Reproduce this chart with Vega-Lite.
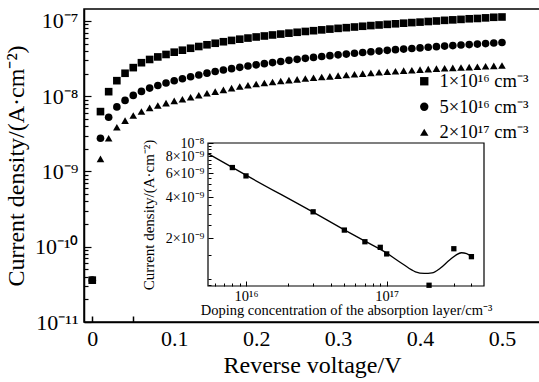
{
 "$schema": "https://vega.github.io/schema/vega-lite/v6.json",
 "width": 456, "height": 313,
 "autosize": {"type": "none"},
 "padding": {"left": 84, "top": 9, "right": 0, "bottom": 60},
 "background": "white",
 "config": {
  "view": {"stroke": "black", "strokeWidth": 1.5},
  "font": "Liberation Serif",
  "axis": {"grid": false, "domainColor": "black", "tickColor": "black", "labelColor": "black", "titleColor": "black", "labelFont": "Liberation Serif", "titleFont": "Liberation Serif", "titleFontWeight": "normal", "labelOverlap": false, "labelFlush": false}
 },
 "datasets": {
  "main": [
   {"V":0,"J":3.6e-11,"s":"a"},{"V":0.01,"J":6.25e-9,"s":"a"},{"V":0.02,"J":1.15e-8,"s":"a"},{"V":0.03,"J":1.61e-8,"s":"a"},{"V":0.04,"J":2.02e-8,"s":"a"},{"V":0.05,"J":2.4e-8,"s":"a"},{"V":0.06,"J":2.79e-8,"s":"a"},{"V":0.07,"J":3.08e-8,"s":"a"},{"V":0.08,"J":3.33e-8,"s":"a"},{"V":0.09,"J":3.59e-8,"s":"a"},{"V":0.1,"J":3.85e-8,"s":"a"},
   {"V":0.11,"J":4.09e-8,"s":"a"},{"V":0.12,"J":4.34e-8,"s":"a"},{"V":0.13,"J":4.58e-8,"s":"a"},{"V":0.14,"J":4.83e-8,"s":"a"},{"V":0.15,"J":5.06e-8,"s":"a"},{"V":0.16,"J":5.3e-8,"s":"a"},{"V":0.17,"J":5.52e-8,"s":"a"},{"V":0.18,"J":5.73e-8,"s":"a"},{"V":0.19,"J":5.93e-8,"s":"a"},{"V":0.2,"J":6.13e-8,"s":"a"},
   {"V":0.21,"J":6.32e-8,"s":"a"},{"V":0.22,"J":6.52e-8,"s":"a"},{"V":0.23,"J":6.7e-8,"s":"a"},{"V":0.24,"J":6.89e-8,"s":"a"},{"V":0.25,"J":7.08e-8,"s":"a"},{"V":0.26,"J":7.26e-8,"s":"a"},{"V":0.27,"J":7.43e-8,"s":"a"},{"V":0.28,"J":7.62e-8,"s":"a"},{"V":0.29,"J":7.8e-8,"s":"a"},{"V":0.3,"J":7.98e-8,"s":"a"},
   {"V":0.31,"J":8.15e-8,"s":"a"},{"V":0.32,"J":8.32e-8,"s":"a"},{"V":0.33,"J":8.51e-8,"s":"a"},{"V":0.34,"J":8.69e-8,"s":"a"},{"V":0.35,"J":8.85e-8,"s":"a"},{"V":0.36,"J":9.02e-8,"s":"a"},{"V":0.37,"J":9.18e-8,"s":"a"},{"V":0.38,"J":9.35e-8,"s":"a"},{"V":0.39,"J":9.52e-8,"s":"a"},{"V":0.4,"J":9.66e-8,"s":"a"},
   {"V":0.41,"J":9.84e-8,"s":"a"},{"V":0.42,"J":1.0e-7,"s":"a"},{"V":0.43,"J":1.02e-7,"s":"a"},{"V":0.44,"J":1.035e-7,"s":"a"},{"V":0.45,"J":1.05e-7,"s":"a"},{"V":0.46,"J":1.07e-7,"s":"a"},{"V":0.47,"J":1.08e-7,"s":"a"},{"V":0.48,"J":1.1e-7,"s":"a"},{"V":0.49,"J":1.12e-7,"s":"a"},{"V":0.5,"J":1.13e-7,"s":"a"},
   {"V":0,"J":3.6e-11,"s":"b"},{"V":0.01,"J":2.77e-9,"s":"b"},{"V":0.02,"J":5.26e-9,"s":"b"},{"V":0.03,"J":7.21e-9,"s":"b"},{"V":0.04,"J":8.8e-9,"s":"b"},{"V":0.05,"J":1.025e-8,"s":"b"},{"V":0.06,"J":1.159e-8,"s":"b"},{"V":0.07,"J":1.282e-8,"s":"b"},{"V":0.08,"J":1.391e-8,"s":"b"},{"V":0.09,"J":1.502e-8,"s":"b"},{"V":0.1,"J":1.606e-8,"s":"b"},
   {"V":0.11,"J":1.707e-8,"s":"b"},{"V":0.12,"J":1.815e-8,"s":"b"},{"V":0.13,"J":1.919e-8,"s":"b"},{"V":0.14,"J":2.027e-8,"s":"b"},{"V":0.15,"J":2.128e-8,"s":"b"},{"V":0.16,"J":2.228e-8,"s":"b"},{"V":0.17,"J":2.325e-8,"s":"b"},{"V":0.18,"J":2.42e-8,"s":"b"},{"V":0.19,"J":2.518e-8,"s":"b"},{"V":0.2,"J":2.612e-8,"s":"b"},
   {"V":0.21,"J":2.71e-8,"s":"b"},{"V":0.22,"J":2.8e-8,"s":"b"},{"V":0.23,"J":2.9e-8,"s":"b"},{"V":0.24,"J":2.998e-8,"s":"b"},{"V":0.25,"J":3.09e-8,"s":"b"},{"V":0.26,"J":3.19e-8,"s":"b"},{"V":0.27,"J":3.28e-8,"s":"b"},{"V":0.28,"J":3.37e-8,"s":"b"},{"V":0.29,"J":3.46e-8,"s":"b"},{"V":0.3,"J":3.55e-8,"s":"b"},
   {"V":0.31,"J":3.63e-8,"s":"b"},{"V":0.32,"J":3.72e-8,"s":"b"},{"V":0.33,"J":3.82e-8,"s":"b"},{"V":0.34,"J":3.9e-8,"s":"b"},{"V":0.35,"J":3.98e-8,"s":"b"},{"V":0.36,"J":4.07e-8,"s":"b"},{"V":0.37,"J":4.16e-8,"s":"b"},{"V":0.38,"J":4.23e-8,"s":"b"},{"V":0.39,"J":4.31e-8,"s":"b"},{"V":0.4,"J":4.39e-8,"s":"b"},
   {"V":0.41,"J":4.48e-8,"s":"b"},{"V":0.42,"J":4.56e-8,"s":"b"},{"V":0.43,"J":4.64e-8,"s":"b"},{"V":0.44,"J":4.71e-8,"s":"b"},{"V":0.45,"J":4.79e-8,"s":"b"},{"V":0.46,"J":4.86e-8,"s":"b"},{"V":0.47,"J":4.93e-8,"s":"b"},{"V":0.48,"J":5.01e-8,"s":"b"},{"V":0.49,"J":5.09e-8,"s":"b"},{"V":0.5,"J":5.17e-8,"s":"b"},
   {"V":0,"J":3.6e-11,"s":"c"},{"V":0.01,"J":1.47e-9,"s":"c"},{"V":0.02,"J":2.77e-9,"s":"c"},{"V":0.03,"J":3.87e-9,"s":"c"},{"V":0.04,"J":4.74e-9,"s":"c"},{"V":0.05,"J":5.56e-9,"s":"c"},{"V":0.06,"J":6.28e-9,"s":"c"},{"V":0.07,"J":7.0e-9,"s":"c"},{"V":0.08,"J":7.55e-9,"s":"c"},{"V":0.09,"J":8.1e-9,"s":"c"},{"V":0.1,"J":8.67e-9,"s":"c"},
   {"V":0.11,"J":9.12e-9,"s":"c"},{"V":0.12,"J":9.7e-9,"s":"c"},{"V":0.13,"J":1.031e-8,"s":"c"},{"V":0.14,"J":1.096e-8,"s":"c"},{"V":0.15,"J":1.151e-8,"s":"c"},{"V":0.16,"J":1.216e-8,"s":"c"},{"V":0.17,"J":1.282e-8,"s":"c"},{"V":0.18,"J":1.345e-8,"s":"c"},{"V":0.19,"J":1.4e-8,"s":"c"},{"V":0.2,"J":1.452e-8,"s":"c"},
   {"V":0.21,"J":1.502e-8,"s":"c"},{"V":0.22,"J":1.549e-8,"s":"c"},{"V":0.23,"J":1.592e-8,"s":"c"},{"V":0.24,"J":1.636e-8,"s":"c"},{"V":0.25,"J":1.677e-8,"s":"c"},{"V":0.26,"J":1.718e-8,"s":"c"},{"V":0.27,"J":1.761e-8,"s":"c"},{"V":0.28,"J":1.8e-8,"s":"c"},{"V":0.29,"J":1.838e-8,"s":"c"},{"V":0.3,"J":1.878e-8,"s":"c"},
   {"V":0.31,"J":1.919e-8,"s":"c"},{"V":0.32,"J":1.96e-8,"s":"c"},{"V":0.33,"J":2.0e-8,"s":"c"},{"V":0.34,"J":2.04e-8,"s":"c"},{"V":0.35,"J":2.08e-8,"s":"c"},{"V":0.36,"J":2.12e-8,"s":"c"},{"V":0.37,"J":2.15e-8,"s":"c"},{"V":0.38,"J":2.19e-8,"s":"c"},{"V":0.39,"J":2.22e-8,"s":"c"},{"V":0.4,"J":2.26e-8,"s":"c"},
   {"V":0.41,"J":2.29e-8,"s":"c"},{"V":0.42,"J":2.33e-8,"s":"c"},{"V":0.43,"J":2.35e-8,"s":"c"},{"V":0.44,"J":2.38e-8,"s":"c"},{"V":0.45,"J":2.41e-8,"s":"c"},{"V":0.46,"J":2.44e-8,"s":"c"},{"V":0.47,"J":2.47e-8,"s":"c"},{"V":0.48,"J":2.5e-8,"s":"c"},{"V":0.49,"J":2.53e-8,"s":"c"},{"V":0.5,"J":2.56e-8,"s":"c"}
  ],
  "inset": [
   {"N":8e15,"J":6.6e-9},{"N":1e16,"J":5.73e-9},{"N":3e16,"J":3.12e-9},{"N":5e16,"J":2.29e-9},{"N":7e16,"J":1.88e-9},{"N":9e16,"J":1.71e-9},{"N":1e17,"J":1.53e-9},{"N":2e17,"J":9.0e-10},{"N":3e17,"J":1.67e-9},{"N":4e17,"J":1.46e-9}
  ],
  "fit": [
   {"N":5.37e15,"J":8.36e-9},{"N":1e16,"J":5.8e-9},{"N":3e16,"J":3.1e-9},{"N":5e16,"J":2.3e-9},{"N":7e16,"J":1.9e-9},{"N":1e17,"J":1.55e-9},{"N":1.3e17,"J":1.29e-9},{"N":1.6e17,"J":1.13e-9},{"N":1.85e17,"J":1.1e-9},{"N":2.1e17,"J":1.11e-9},{"N":2.4e17,"J":1.2e-9},{"N":2.8e17,"J":1.38e-9},{"N":3.4e17,"J":1.56e-9},{"N":3.7e17,"J":1.54e-9},{"N":4e17,"J":1.46e-9}
  ],
  "box": [{"x1":5.37e15,"x2":4.915e17,"y1":8.887e-10,"y2":1e-8}]
 },
 "resolve": {"scale": {"x": "independent", "y": "independent"}, "axis": {"x": "independent", "y": "independent"}},
 "layer": [
  {
   "data": {"name": "main"},
   "mark": {"type": "point", "filled": true, "color": "black", "size": 58, "opacity": 1},
   "encoding": {
    "x": {"field": "V", "type": "quantitative",
     "scale": {"domain": [-0.0101, 0.5464], "nice": false, "zero": false},
     "axis": {"orient": "bottom", "values": [0, 0.1, 0.2, 0.3, 0.4, 0.5], "ticks": false, "domainWidth": 1.5, "labelFontSize": 22, "labelPadding": 6, "labelExpr": "datum.value == 0 ? '0' : format(datum.value, '.1f')", "title": "Reverse voltage/V", "titleFontSize": 24, "titlePadding": 4}},
    "y": {"field": "J", "type": "quantitative",
     "scale": {"type": "log", "domain": [1e-11, 1.443e-7], "nice": false},
     "axis": {"orient": "left", "values": [1e-11, 1e-10, 1e-9, 1e-8, 1e-7], "ticks": false, "domainWidth": 1.5, "labelFontSize": 22, "labelPadding": 6, "labelExpr": "datum.value < 5e-11 ? '10⁻¹¹' : datum.value < 5e-10 ? '10⁻¹⁰' : datum.value < 5e-9 ? '10⁻⁹' : datum.value < 5e-8 ? '10⁻⁸' : '10⁻⁷'", "title": "Current density/(A·cm⁻²)", "titleFontSize": 24, "titlePadding": 6}},
    "shape": {"field": "s", "type": "nominal",
     "scale": {"domain": ["a", "b", "c"], "range": ["square", "circle", "triangle-up"]},
     "legend": {"orient": "none", "legendX": 331, "legendY": 63, "title": null, "padding": 0, "symbolSize": 70, "symbolFillColor": "black", "symbolStrokeColor": "black", "symbolType": "circle", "labelFont": "Liberation Serif", "labelFontSize": 18.5, "labelColor": "black", "labelLimit": 0, "labelOffset": 6, "rowPadding": 6.5,
      "labelExpr": "datum.label == 'a' ? '1×10¹⁶ cm⁻³' : datum.label == 'b' ? '5×10¹⁶ cm⁻³' : '2×10¹⁷ cm⁻³'"}}
   }
  },
  {
   "data": {"values": [{"V": 0, "J": 1e-9}]},
   "mark": {"type": "point", "opacity": 0},
   "encoding": {
    "x": {"field": "V", "type": "quantitative",
     "scale": {"domain": [-0.0101, 0.5464], "nice": false, "zero": false},
     "axis": {"orient": "bottom", "values": [0, 0.05], "labels": false, "domain": false, "tickSize": -6, "tickWidth": 1.5, "title": null}},
    "y": {"field": "J", "type": "quantitative",
     "scale": {"type": "log", "domain": [1e-11, 1.443e-7], "nice": false},
     "axis": {"orient": "left", "values": [1e-11, 2e-11, 3e-11, 4e-11, 5e-11, 6e-11, 7e-11, 8e-11, 9e-11, 1e-10, 2e-10, 3e-10, 4e-10, 5e-10, 6e-10, 7e-10, 8e-10, 9e-10, 1e-9, 2e-9, 3e-9, 4e-9, 5e-9, 6e-9, 7e-9, 8e-9, 9e-9, 1e-8, 2e-8, 3e-8, 4e-8, 5e-8, 6e-8, 7e-8, 8e-8, 9e-8, 1e-7],
      "labels": false, "domain": false, "title": null, "tickWidth": 1.2,
      "tickSize": {"condition": {"test": "abs(log(datum.value)/LN10 - round(log(datum.value)/LN10)) < 0.001", "value": -7}, "value": -4}}}
   }
  },
  {
   "data": {"name": "box"},
   "mark": {"type": "rect", "filled": false, "stroke": "black", "strokeWidth": 1.2},
   "encoding": {
    "x": {"field": "x1", "type": "quantitative", "scale": {"type": "log", "domain": [5.37e15, 4.915e17], "range": [124, 400], "nice": false}, "axis": null},
    "x2": {"field": "x2"},
    "y": {"field": "y1", "type": "quantitative", "scale": {"type": "log", "domain": [8.887e-10, 1e-8], "range": [277, 134], "nice": false}, "axis": null},
    "y2": {"field": "y2"}
   }
  },
  {
   "data": {"name": "fit"},
   "mark": {"type": "line", "color": "black", "strokeWidth": 1.3, "interpolate": "monotone"},
   "encoding": {
    "x": {"field": "N", "type": "quantitative", "scale": {"type": "log", "domain": [5.37e15, 4.915e17], "range": [124, 400], "nice": false},
     "axis": {"orient": "bottom", "offset": -36, "values": [1e16, 1e17], "ticks": false, "domain": false, "labelFontSize": 14.5, "labelPadding": 3, "labelExpr": "datum.value < 5e16 ? '10¹⁶' : '10¹⁷'", "title": "Doping concentration of the absorption layer/cm⁻³", "titleFontSize": 14.5, "titlePadding": 1}},
    "y": {"field": "J", "type": "quantitative", "scale": {"type": "log", "domain": [8.887e-10, 1e-8], "range": [277, 134], "nice": false},
     "axis": {"orient": "left", "offset": -124, "values": [2e-9, 4e-9, 6e-9, 8e-9, 1e-8], "ticks": false, "domain": false, "labelFontSize": 14, "labelPadding": 4, "labelExpr": "datum.value > 9e-9 ? '10⁻⁸' : datum.value > 7e-9 ? '8×10⁻⁹' : datum.value > 5e-9 ? '6×10⁻⁹' : datum.value > 3e-9 ? '4×10⁻⁹' : '2×10⁻⁹'", "title": "Current density/(A·cm⁻²)", "titleFontSize": 15, "titlePadding": 9}}
   }
  },
  {
   "data": {"name": "inset"},
   "mark": {"type": "square", "filled": true, "color": "black", "size": 28, "opacity": 1},
   "encoding": {
    "x": {"field": "N", "type": "quantitative", "scale": {"type": "log", "domain": [5.37e15, 4.915e17], "range": [124, 400], "nice": false},
     "axis": {"orient": "bottom", "offset": -36, "values": [6e15, 7e15, 8e15, 9e15, 1e16, 2e16, 3e16, 4e16, 5e16, 6e16, 7e16, 8e16, 9e16, 1e17, 2e17, 3e17, 4e17], "labels": false, "domain": false, "title": null, "tickWidth": 1,
      "tickSize": {"condition": {"test": "abs(log(datum.value)/LN10 - round(log(datum.value)/LN10)) < 0.001", "value": -5}, "value": -3}}},
    "y": {"field": "J", "type": "quantitative", "scale": {"type": "log", "domain": [8.887e-10, 1e-8], "range": [277, 134], "nice": false},
     "axis": {"orient": "left", "offset": -124, "values": [9e-10, 1e-9, 1.5e-9, 2e-9, 2.5e-9, 3e-9, 3.5e-9, 4e-9, 4.5e-9, 5e-9, 5.5e-9, 6e-9, 6.5e-9, 7e-9, 7.5e-9, 8e-9, 8.5e-9, 9e-9, 9.5e-9, 1e-8], "labels": false, "domain": false, "title": null, "tickWidth": 1,
      "tickSize": {"condition": {"test": "datum.value == 2e-9 || datum.value == 4e-9 || datum.value == 6e-9 || datum.value == 8e-9 || datum.value == 1e-8", "value": -5}, "value": -3}}}
   }
  }
 ]
}
